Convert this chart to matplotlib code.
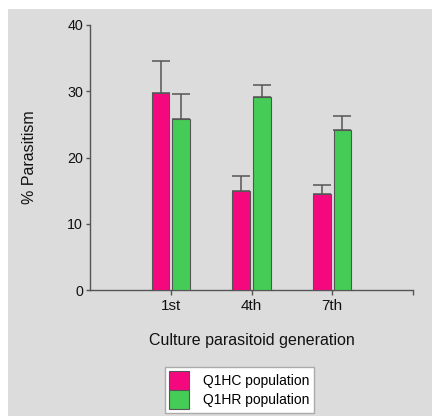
import matplotlib
matplotlib.use("Agg")
import matplotlib.pyplot as plt
from matplotlib.patches import Rectangle, Patch
import numpy as np

plt.rcParams['font.family'] = ['Liberation Sans', 'DejaVu Sans']

categories = ["1st", "4th", "7th"]
series_names = ["Q1HC population", "Q1HR population"]
q1hc_mean = [29.8, 14.9, 14.5]
q1hc_err = [4.7, 2.3, 1.4]
q1hr_mean = [25.8, 29.1, 24.2]
q1hr_err = [3.8, 1.9, 2.0]
colors = ["#F5087E", "#45CC57"]
edge = "#555555"

W, H = 432, 416
fig = plt.figure(figsize=(W / 100, H / 100), dpi=100, facecolor="white")
bg = Rectangle((8 / W, 0), 1 - 8 / W, 1 - 9 / H, transform=fig.transFigure,
               facecolor="#DCDCDC", edgecolor="none", zorder=-10)
fig.add_artist(bg)

ax = fig.add_axes([90 / W, 1 - 290 / H, 323 / W, 265 / H])
ax.set_zorder(1)
ax.patch.set_visible(False)

x = np.arange(1, len(categories) + 1)
bw = 0.22
off = 0.126
for xs, m, e, c in [(x - off, q1hc_mean, q1hc_err, colors[0]), (x + off, q1hr_mean, q1hr_err, colors[1])]:
    ax.bar(xs, m, width=bw, color=c, edgecolor=edge, linewidth=0.8, zorder=3)
    ax.errorbar(xs, m, yerr=[np.zeros(len(m)), e], fmt="none", ecolor=edge,
                elinewidth=1.1, capsize=6.5, capthick=1.1, zorder=2)

ax.set_xlim(0, 4)
ax.set_ylim(0, 40)
ax.set_xticks([1, 2, 3, 4])
ax.set_xticklabels(categories + [""])
ax.set_yticks([0, 10, 20, 30, 40])
for s in ["top", "right"]:
    ax.spines[s].set_visible(False)
for s in ["left", "bottom"]:
    ax.spines[s].set_color(edge)
    ax.spines[s].set_linewidth(1.0)
ax.tick_params(axis="x", length=3.6, width=1, color=edge, pad=3.0, labelsize=11, labelcolor="#111111")
ax.tick_params(axis="y", length=2.9, width=1, color=edge, pad=2.0, labelsize=10.3, labelcolor="#111111")

ax.set_ylabel("% Parasitism", fontsize=11.5, color="#111111")
ax.yaxis.set_label_coords((30 - 90) / 323, 0.5)
ax.yaxis.label.set_va("center")
ax.set_xlabel("Culture parasitoid generation", fontsize=11.5, color="#111111")
ax.xaxis.set_label_coords(0.5, -(340 - 290) / 265)
ax.xaxis.label.set_va("center")

handles = [Patch(facecolor=colors[0], edgecolor=edge, linewidth=0.8),
           Patch(facecolor=colors[1], edgecolor=edge, linewidth=0.8)]
leg = fig.legend(handles, series_names, loc="upper left", bbox_to_anchor=(165 / W, 1 - 367 / H),
                 fontsize=10, frameon=True, fancybox=False, edgecolor="#AAAAAA", framealpha=1,
                 handlelength=1.45, handleheight=1.7, handletextpad=1.0, labelspacing=0.0,
                 borderpad=0.3, borderaxespad=0)
leg.get_frame().set_linewidth(1.0)
leg.set_zorder(5)

fig.savefig("out.png", dpi=100, facecolor="white")
